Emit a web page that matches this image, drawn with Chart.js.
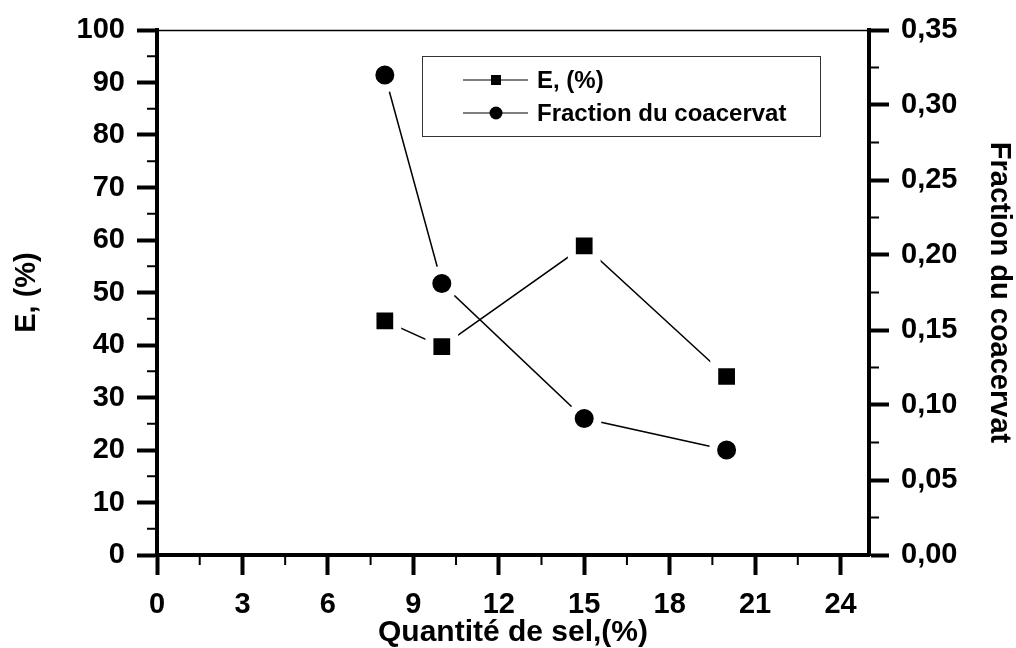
<!DOCTYPE html>
<html>
<head>
<meta charset="utf-8">
<script src="https://cdn.jsdelivr.net/npm/chart.js@4.4.0/dist/chart.umd.min.js"></script>
<style>
  html, body { margin: 0; padding: 0; background: #fff; }
  #wrap { width: 1016px; height: 648px; }
</style>
</head>
<body>
<div id="wrap"><canvas id="chart" width="1016" height="648"></canvas></div>
<script>
// salt content (%) and measured values
const saltPct = [8, 10, 15, 20];
const extraction = [44.6, 39.7, 58.9, 34.0];
const coacervate = [0.32, 0.181, 0.091, 0.07];

const xTicks = [0, 3, 6, 9, 12, 15, 18, 21, 24];
const leftTicks = [0, 10, 20, 30, 40, 50, 60, 70, 80, 90, 100];
const rightTicks = [0, 0.05, 0.10, 0.15, 0.20, 0.25, 0.30, 0.35];

const seriesNames = ['E, (%)', 'Fraction du coacervat'];

const FONT = 'Liberation Sans, Arial, sans-serif';
const tickFont = { family: FONT, size: 29, weight: 'bold' };

const keepTicks = list => scale => {
  scale.ticks = list.map(v => ({ value: v }));
};

// minor ticks, top frame and the boxed legend
const decorations = {
  id: 'decorations',
  afterDraw(chart) {
    const { ctx, chartArea: a, scales } = chart;
    ctx.save();
    ctx.strokeStyle = '#000';
    ctx.lineWidth = 2;
    ctx.lineCap = 'butt';

    // minor ticks half way between majors
    ctx.beginPath();
    for (let i = 0; i < xTicks.length - 1; i++) {
      const px = scales.x.getPixelForValue((xTicks[i] + xTicks[i + 1]) / 2);
      ctx.moveTo(px, a.bottom);
      ctx.lineTo(px, a.bottom + 10);
    }
    for (let i = 0; i < leftTicks.length - 1; i++) {
      const py = scales.y.getPixelForValue((leftTicks[i] + leftTicks[i + 1]) / 2);
      ctx.moveTo(a.left, py);
      ctx.lineTo(a.left - 10, py);
    }
    for (let i = 0; i < rightTicks.length - 1; i++) {
      const py = scales.y2.getPixelForValue((rightTicks[i] + rightTicks[i + 1]) / 2);
      ctx.moveTo(a.right, py);
      ctx.lineTo(a.right + 10, py);
    }
    ctx.stroke();

    // thin top frame
    ctx.lineWidth = 1.5;
    ctx.beginPath();
    ctx.moveTo(a.left, a.top + 0.5);
    ctx.lineTo(a.right, a.top + 0.5);
    ctx.stroke();

    // legend box
    const bx = 422, by = 56, bw = 398, bh = 80;
    ctx.strokeStyle = '#333';
    ctx.lineWidth = 1;
    ctx.strokeRect(bx + 0.5, by + 0.5, bw, bh);

    const rows = [by + 24, by + 57];
    chart.data.datasets.forEach((ds, i) => {
      const y = rows[i];
      ctx.strokeStyle = '#000';
      ctx.lineWidth = 1.2;
      ctx.beginPath();
      ctx.moveTo(463, y);
      ctx.lineTo(528, y);
      ctx.stroke();
      ctx.fillStyle = '#000';
      if (ds.pointStyle === 'rect') {
        ctx.fillRect(491, y - 5, 10, 10);
      } else {
        ctx.beginPath();
        ctx.arc(496, y, 6.5, 0, Math.PI * 2);
        ctx.fill();
      }
      ctx.font = 'bold 24px ' + FONT;
      ctx.textBaseline = 'middle';
      ctx.fillText(seriesNames[i], 537, y + 1);
    });
    ctx.restore();
  }
};

new Chart(document.getElementById('chart'), {
  type: 'line',
  data: {
    datasets: [
      {
        label: seriesNames[0],
        data: saltPct.map((x, i) => ({ x, y: extraction[i] })),
        yAxisID: 'y',
        borderColor: '#000',
        borderWidth: 1.5,
        pointStyle: 'rect',
        pointRadius: 17.5,
        pointBackgroundColor: '#000',
        pointBorderColor: '#fff',
        pointBorderWidth: 8,
        tension: 0
      },
      {
        label: seriesNames[1],
        data: saltPct.map((x, i) => ({ x, y: coacervate[i] })),
        yAxisID: 'y2',
        borderColor: '#000',
        borderWidth: 1.5,
        pointStyle: 'circle',
        pointRadius: 13.5,
        pointBackgroundColor: '#000',
        pointBorderColor: '#fff',
        pointBorderWidth: 8,
        tension: 0
      }
    ]
  },
  options: {
    responsive: false,
    animation: false,
    events: [],
    layout: { padding: { top: 30, left: 0, right: 0, bottom: 0 } },
    plugins: { legend: { display: false }, tooltip: { enabled: false } },
    scales: {
      x: {
        type: 'linear',
        min: 0,
        max: 25,
        afterBuildTicks: keepTicks(xTicks),
        afterFit: s => { s.height = 93; },
        border: { display: true, color: '#000', width: 4 },
        grid: { drawOnChartArea: false, drawTicks: true, tickLength: 20, tickWidth: 4, tickColor: '#000' },
        ticks: { color: '#000', font: tickFont, padding: 13, maxRotation: 0 },
        title: {
          display: true, text: 'Quantité de sel,(%)', color: '#000',
          font: { family: FONT, size: 30, weight: 'bold' }, padding: { top: 0, bottom: -3 }
        }
      },
      y: {
        type: 'linear',
        position: 'left',
        min: 0,
        max: 100,
        afterBuildTicks: keepTicks(leftTicks),
        afterFit: s => { s.width = 157; },
        border: { display: true, color: '#000', width: 4 },
        grid: { drawOnChartArea: false, drawTicks: true, tickLength: 20, tickWidth: 4, tickColor: '#000' },
        ticks: { color: '#000', font: tickFont, padding: 12 },
        title: {
          display: true, text: 'E, (%)', color: '#000',
          font: { family: FONT, size: 29, weight: 'bold' }, padding: { top: 10, bottom: 0 }
        }
      },
      y2: {
        type: 'linear',
        position: 'right',
        min: 0,
        max: 0.35,
        afterBuildTicks: keepTicks(rightTicks),
        afterFit: s => { s.width = 147; },
        border: { display: true, color: '#000', width: 4 },
        grid: { drawOnChartArea: false, drawTicks: true, tickLength: 20, tickWidth: 4, tickColor: '#000' },
        ticks: {
          color: '#000',
          font: tickFont,
          padding: 12,
          callback: v => v.toFixed(2).replace('.', ',')
        },
        title: {
          display: true, text: 'Fraction du coacervat', color: '#000',
          font: { family: FONT, size: 29, weight: 'bold' }, padding: { top: 0, bottom: 5 }
        }
      }
    }
  },
  plugins: [decorations]
});
</script>
</body>
</html>
